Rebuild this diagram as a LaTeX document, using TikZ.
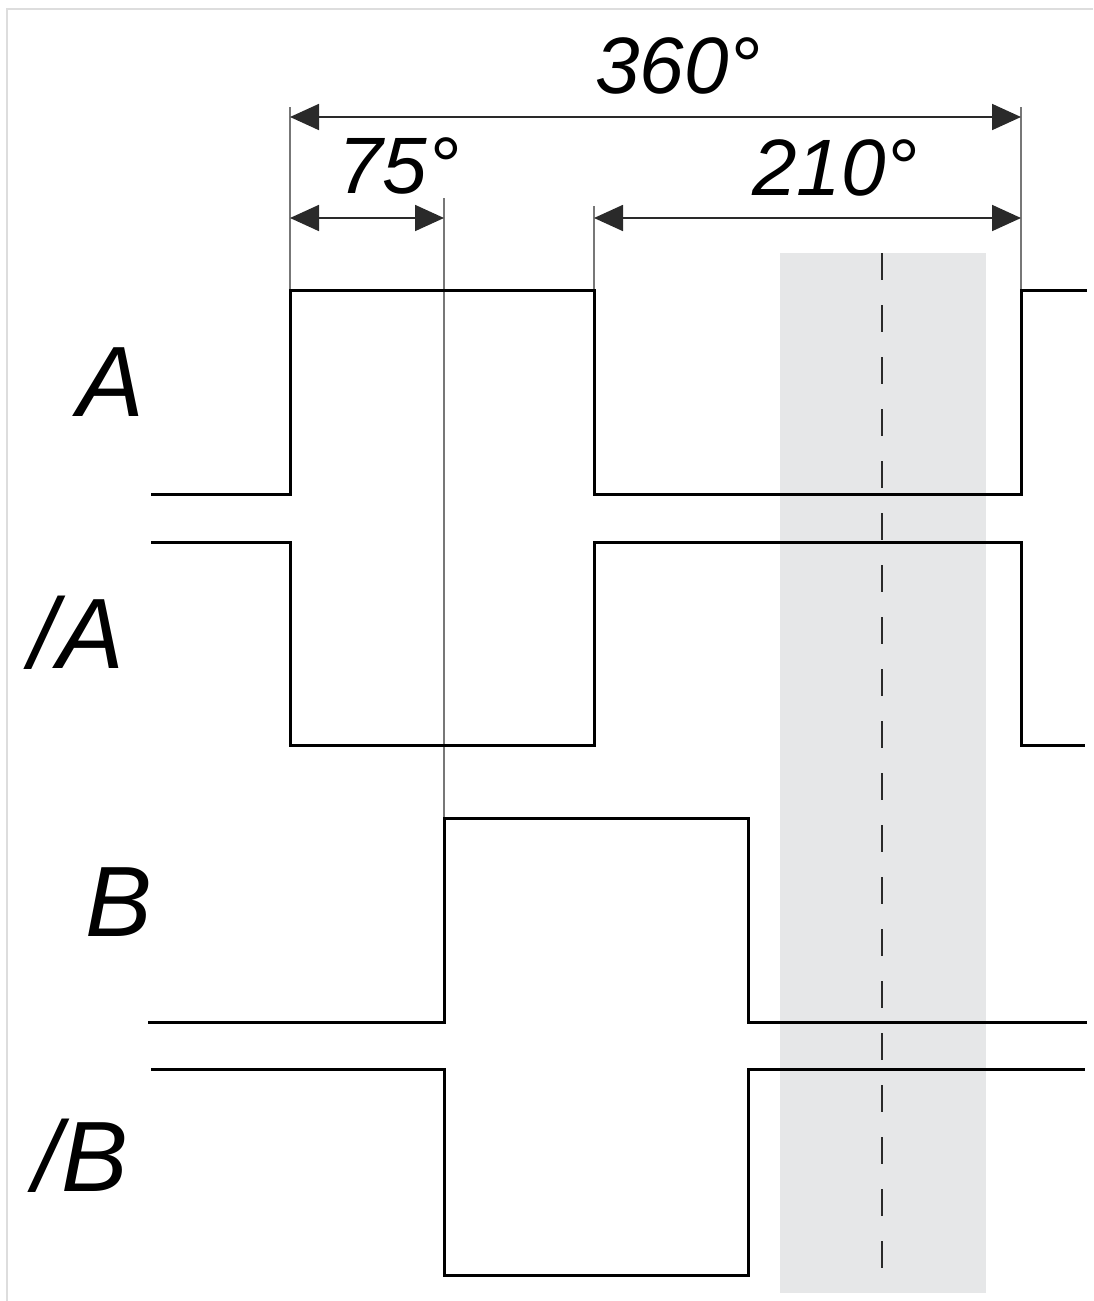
\documentclass[tikz,border=0pt]{standalone}
\usepackage{fontspec}
\setmainfont{Liberation Sans}
\usetikzlibrary{arrows.meta}
\definecolor{bandgray}{HTML}{E6E7E8}
\definecolor{framegray}{HTML}{DDDDDD}
\definecolor{dimgray}{HTML}{2A2A2A}
\definecolor{extgray}{HTML}{777777}
\tikzset{
  wave/.style={line width=3pt, black, line join=miter},
  dimline/.style={line width=1.8pt, dimgray, {Triangle[length=29pt,width=26pt]}-{Triangle[length=29pt,width=26pt]}},
  extline/.style={line width=1.3pt, extgray},
  deglabel/.style={font=\fontsize{80}{80}\selectfont\itshape, inner sep=0pt, anchor=base},
  siglabel/.style={font=\fontsize{100}{100}\selectfont\itshape, inner sep=0pt, anchor=base},
  centerline/.style={line width=1.6pt, dimgray, dash pattern=on 27pt off 25pt},
}
\begin{document}
\begin{tikzpicture}[x=1pt,y=-1pt]
\useasboundingbox (0,0) rectangle (1093,1301);
% frame
\draw[framegray, line width=2.2pt] (7,1301) -- (7,9) -- (1093,9);
% gray band
\fill[bandgray] (780,253) rectangle (986,1293);
% extension lines
\coordinate (e1t) at (290,107); \coordinate (e1b) at (290,290);
\coordinate (e2t) at (1021,107); \coordinate (e2b) at (1021,290);
\coordinate (e3t) at (444,198); \coordinate (e3b) at (444,818);
\coordinate (e4t) at (594,206); \coordinate (e4b) at (594,290);
\draw[extline] (e1t) -- (e1b);
\draw[extline] (e2t) -- (e2b);
\draw[extline] (e3t) -- (e3b);
\draw[extline] (e4t) -- (e4b);
% dimension arrows
\coordinate (d360a) at (290,117); \coordinate (d360b) at (1021,117);
\coordinate (d75a) at (290,218); \coordinate (d75b) at (444,218);
\coordinate (d210a) at (594,218); \coordinate (d210b) at (1021,218);
\draw[dimline] (d360a) -- (d360b);
\draw[dimline] (d75a) -- (d75b);
\draw[dimline] (d210a) -- (d210b);
% dimension labels
\node[deglabel] (l360) at (678,93) {360°};
\node[deglabel] (l75) at (399,193) {75°};
\node[deglabel] (l210) at (835,195) {210°};
% center dashed line
\coordinate (ct) at (882,253); \coordinate (cb) at (882,1293);
\draw[centerline] (ct) -- (cb);
% waveforms
\draw[wave] (151,494) -- (290,494) -- (290,290) -- (594,290) -- (594,494) -- (1021,494) -- (1021,290) -- (1087,290);
\draw[wave] (151,542) -- (290,542) -- (290,745) -- (594,745) -- (594,542) -- (1021,542) -- (1021,745) -- (1085,745);
\draw[wave] (148,1022) -- (444,1022) -- (444,818) -- (748,818) -- (748,1022) -- (1087,1022);
\draw[wave] (151,1069) -- (444,1069) -- (444,1275) -- (748,1275) -- (748,1069) -- (1085,1069);
% signal labels
\node[siglabel] (sA) at (111,416) {A};
\node[siglabel] (snA) at (77,668) {/A};
\node[siglabel] (sB) at (119,936) {B};
\node[siglabel] (snB) at (81,1191) {/B};
\end{tikzpicture}
\end{document}
